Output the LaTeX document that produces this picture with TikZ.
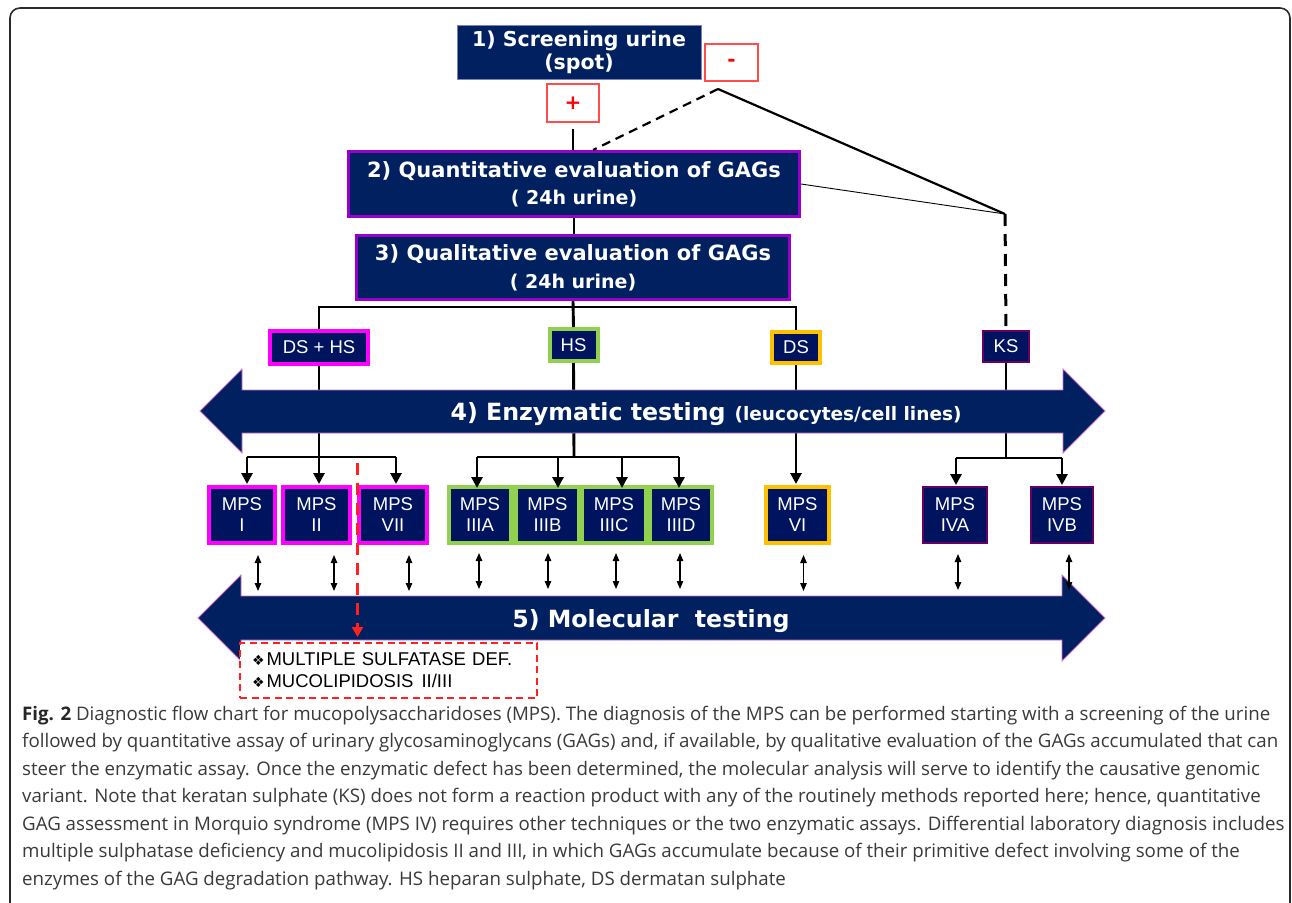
\documentclass[tikz,border=0pt]{standalone}
\usepackage{fontspec}
\usetikzlibrary{arrows.meta,calc}
\setmainfont{Open Sans}
\newfontfamily\dv{DejaVu Sans}
\newfontfamily\ls{Liberation Sans}
\definecolor{navy}{HTML}{002060}
\definecolor{navyb}{HTML}{00135F}
\definecolor{purp}{HTML}{9900CC}
\definecolor{mag}{HTML}{FF00FF}
\definecolor{grn}{HTML}{92D050}
\definecolor{gold}{HTML}{FFC000}
\definecolor{dpur}{HTML}{660066}
\definecolor{redc}{HTML}{FF2020}
\definecolor{pmred}{HTML}{FF4D4D}
\definecolor{arrowedge}{HTML}{D070D0}
\definecolor{boxedge}{HTML}{8080B8}
\definecolor{capc}{HTML}{3A3A3A}
\definecolor{framec}{HTML}{2A2A2A}
\begin{document}
\begin{tikzpicture}[x=1pt,y=-1pt,
  navybox/.style={fill=navy, inner sep=0pt, text=white, align=center},
  headbox/.style={navybox, draw=purp, line width=3pt, font=\dv\bfseries},
  tagbox/.style={fill=navyb, inner sep=0pt, text=white, line width=4pt, font=\ls\fontsize{18.5}{21}\selectfont},
  mps/.style={fill=navyb, inner sep=0pt, text=white, align=center, line width=4pt, minimum height=56pt, font=\ls\fontsize{18.5}{21}\selectfont},
  pmbox/.style={fill=white, draw=pmred, line width=1.2pt, inner sep=0pt, text=red, font=\dv\bfseries\fontsize{20}{22}\selectfont},
  conn/.style={line width=2.9pt, black},
  tarr/.style={conn, -{Triangle[width=11pt,length=11pt]}, shorten >=1pt},
  darr/.style={line width=1.2pt, black, {Triangle[width=6.5pt,length=8pt]}-{Triangle[width=6.5pt,length=8pt]}},
  bigarrow/.style={fill=navy, draw=arrowedge, line width=0.8pt},
  arrowtext/.style={text=white, font=\dv\bfseries, inner sep=0pt, anchor=base},
  captext/.style={anchor=base west, inner sep=0pt, text=capc, font=\fontsize{18.7}{20}\selectfont}
]
\useasboundingbox (0,0) rectangle (1292,902);
\fill[white] (0,0) rectangle (1292,902);
% frame
\draw[framec, line width=1.6pt, rounded corners=10pt] (10,904) -- (10,8) -- (1290,8) -- (1290,904);

% coordinates
\coordinate (vtop) at (718,89);
\coordinate (junc) at (1005,214);
\coordinate (bus) at (0,307);
\coordinate (bA1) at (247,457);
\coordinate (bA3) at (396,457);
\coordinate (jA) at (319,457);
\coordinate (bB1) at (477,457);
\coordinate (bB2) at (558,457);
\coordinate (bB3) at (622,457);
\coordinate (bB4) at (679,457);
\coordinate (jB) at (574,457);
\coordinate (jD) at (1006,458);
\coordinate (bD1) at (956,458);
\coordinate (bD2) at (1062,458);
\coordinate (rs) at (357.5,463);

% step 1
\node[navybox, draw=boxedge, line width=1pt, minimum width=244pt, minimum height=54pt,
      font=\dv\bfseries\fontsize{20.5}{23}\selectfont] (s1) at (579,52) {1) Screening urine\\(spot)};
\node[pmbox, minimum width=53pt, minimum height=37pt] (minus) at (731.5,62.5) {-};
\node[pmbox, minimum width=52pt, minimum height=38pt] (plus) at (573,103) {+};

% step 2 and 3
\node[headbox, minimum width=451pt, minimum height=65pt, font=\dv\bfseries\fontsize{21}{27}\selectfont] (q2) at (574,184)
  {2) Quantitative evaluation of GAGs\\{\fontsize{19}{27}\selectfont ( 24h urine)}};
\node[headbox, minimum width=433pt, minimum height=64pt, font=\dv\bfseries\fontsize{21}{28}\selectfont] (q3) at (573,267.5)
  {3) Qualitative evaluation of GAGs\\{\fontsize{19}{28}\selectfont ( 24h urine)}};

% tag box positions
\path (319,347.5) coordinate (pdshs) (573.5,345) coordinate (phs) (796,347.5) coordinate (pds) (1006,346.5) coordinate (pks);

% connectors top part
\draw[conn] ([yshift=-6pt]plus.south) -- (plus |- q2.north);
\draw[line width=2.2pt, dash pattern=on 9pt off 6pt] (vtop) -- ([xshift=19pt]q2.north);
\draw[line width=2.2pt] (vtop) -- (junc);
\draw[line width=0.9pt] (q2.east) -- (junc);
\draw[conn] (q2.south) -- (q2.south |- q3.north);

% tags
\node[tagbox, draw=mag, minimum width=98pt, minimum height=33pt] (dshs) at (pdshs) {DS + HS};
\node[tagbox, draw=grn, minimum width=48pt, minimum height=32pt] (hs) at (phs) {HS};
\node[tagbox, draw=gold, minimum width=48pt, minimum height=31pt] (ds) at (pds) {DS};
\node[tagbox, draw=dpur, line width=2pt, minimum width=46pt, minimum height=31pt] (ks) at (pks) {KS};

\draw[conn] (q3.south) -- (hs.north);
\draw[conn] (dshs.north) |- (ds |- bus) -- (ds.north);
\draw[line width=3pt, dash pattern=on 12pt off 8pt] (junc) -- (ks.north);

% verticals through arrow 4
\draw[conn] (dshs.south) -- (jA);
\draw[conn] (hs.south) -- (jB);
\draw[conn] (ks.south) -- (jD);
\draw[conn] (ds.south) -- (ds |- bA1);

% arrow 4
\path[bigarrow] (200,411) -- (242,369) -- (242,390) -- (1063,390) -- (1063,369) -- (1105,411)
  -- (1063,453) -- (1063,433) -- (242,433) -- (242,453) -- cycle;
\node[arrowtext] (a4) at (706,420) {\fontsize{23.7}{28}\selectfont 4) Enzymatic testing\hspace{9pt}{\fontsize{18.5}{28}\selectfont(leucocytes/cell lines)}};

% arrow 5
\path[bigarrow] (198,618) -- (241,575) -- (241,596) -- (1062,596) -- (1062,575) -- (1105,618)
  -- (1062,661) -- (1062,640) -- (241,640) -- (241,661) -- cycle;
\node[arrowtext] (a5) at (651,627) {\fontsize{23.7}{28}\selectfont 5) Molecular\hspace{8pt} testing};

% MPS boxes
\node[mps, draw=mag, minimum width=66pt] (m1) at (242,515) {MPS\\I};
\node[mps, draw=mag, minimum width=67pt] (m2) at (316.5,515) {MPS\\II};
\node[mps, draw=mag, minimum width=68pt] (m7) at (393,515) {MPS\\VII};
\node[fill=grn, inner sep=0pt, minimum width=267pt, minimum height=60pt] (g3) at (580.5,515) {};
\node[mps, line width=0pt, minimum width=58pt, minimum height=52pt] (m3a) at (480,515) {MPS\\IIIA};
\node[mps, line width=0pt, minimum width=59pt, minimum height=52pt] (m3b) at (547.5,515) {MPS\\IIIB};
\node[mps, line width=0pt, minimum width=60pt, minimum height=52pt] (m3c) at (614,515) {MPS\\IIIC};
\node[mps, line width=0pt, minimum width=58pt, minimum height=52pt] (m3d) at (681,515) {MPS\\IIID};
\node[mps, draw=gold, minimum width=63pt] (m6) at (797.5,515) {MPS\\VI};
\node[mps, draw=dpur, line width=2pt, minimum width=64pt] (m4a) at (955,515) {MPS\\IVA};
\node[mps, draw=dpur, line width=2pt, minimum width=62pt] (m4b) at (1062,515) {MPS\\IVB};

% branches
\draw[conn] (bA1) -- (bA3);
\draw[tarr] (bA1) -- (bA1 |- m1.north);
\draw[tarr] (jA) -- (jA |- m2.north);
\draw[tarr] (bA3) -- (bA3 |- m7.north);
\draw[conn] (bB1) -- (bB4);
\draw[tarr] (bB1) -- (bB1 |- m3a.north);
\draw[tarr] (bB2) -- (bB2 |- m3b.north);
\draw[tarr] (bB3) -- (bB3 |- m3c.north);
\draw[tarr] (bB4) -- (bB4 |- m3d.north);
\draw[tarr] (ds |- bA1) -- (ds |- m6.north);
\draw[conn] (bD1) -- (bD2);
\draw[tarr] (bD1) -- (bD1 |- m4a.north);
\draw[tarr] (bD2) -- (bD2 |- m4b.north);

% double arrows to molecular testing
\draw[darr] ($(m1.south)+(16,10)$) -- ++(0,36);
\draw[darr] ($(m2.south)+(17.5,10)$) -- ++(0,36);
\draw[darr] ($(m7.south)+(16,10)$) -- ++(0,36);
\draw[darr] ($(m3a.south)+(-1,12)$) -- ++(0,36);
\draw[darr] ($(m3b.south)+(0.5,12)$) -- ++(0,36);
\draw[darr] ($(m3c.south)+(2,12)$) -- ++(0,36);
\draw[darr] ($(m3d.south)+(-1,12)$) -- ++(0,36);
\draw[darr] ($(m6.south)+(6,10)$) -- ++(0,36);
\draw[darr] ($(m4a.south)+(3,10)$) -- ++(0,36);
\draw[darr] ($(m4b.south)+(7,10)$) -- ++(0,36);

% differential diagnosis box
\node[fill=white, draw=redc, line width=2pt, dash pattern=on 7pt off 4.5pt, inner xsep=12pt, inner ysep=0pt,
      text width=273pt, align=left, minimum height=55pt, font=\ls\fontsize{18.5}{22}\selectfont] (rb) at (388.5,670.5)
  {{\dv\fontsize{14}{22}\selectfont ❖}\hspace{2pt}MULTIPLE SULFATASE DEF.\\{\dv\fontsize{14}{22}\selectfont ❖}\hspace{2pt}MUCOLIPIDOSIS\hspace{8pt}II/III};
\draw[redc, line width=2.5pt, dash pattern=on 12pt off 8pt, -{Triangle[width=11pt,length=10pt]}, shorten >=5pt] (rs) -- (rs |- rb.north);

% caption
\node[captext] (c1) at (22,720) {{\bfseries\color{black!85}Fig. 2} Diagnostic flow chart for mucopolysaccharidoses (MPS). The diagnosis of the MPS can be performed starting with a screening of the urine};
\node[captext] (c2) at (22,747.5) {followed by quantitative assay of urinary glycosaminoglycans (GAGs) and, if available, by qualitative evaluation of the GAGs accumulated that can};
\node[captext] (c3) at (22,775) {steer the enzymatic assay. Once the enzymatic defect has been determined, the molecular analysis will serve to identify the causative genomic};
\node[captext] (c4) at (22,802.5) {variant. Note that keratan sulphate (KS) does not form a reaction product with any of the routinely methods reported here; hence, quantitative};
\node[captext] (c5) at (22,830) {GAG assessment in Morquio syndrome (MPS IV) requires other techniques or the two enzymatic assays. Differential laboratory diagnosis includes};
\node[captext] (c6) at (22,857.5) {multiple sulphatase deficiency and mucolipidosis II and III, in which GAGs accumulate because of their primitive defect involving some of the};
\node[captext] (c7) at (22,885) {enzymes of the GAG degradation pathway. HS heparan sulphate, DS dermatan sulphate};
\end{tikzpicture}
\end{document}
